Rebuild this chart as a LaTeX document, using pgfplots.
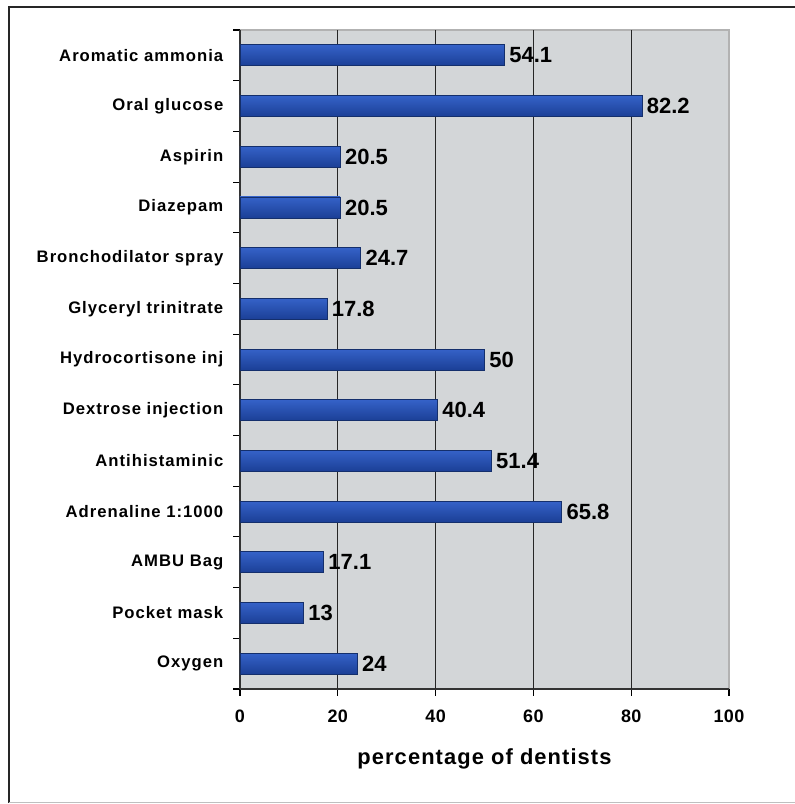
\documentclass[border=0pt]{standalone}
\usepackage{fontspec}
\setmainfont{Liberation Sans}
\usepackage{pgfplots}
\pgfplotsset{compat=1.18}
\definecolor{bggray}{HTML}{D3D6D8}
\definecolor{bartop}{HTML}{3562C8}
\definecolor{barbot}{HTML}{1B3F96}
\definecolor{baredge}{HTML}{142F6C}
\pgfplotsset{mybar/.style={draw=baredge, line width=0.6pt, top color=bartop, bottom color=barbot, bar shift=0pt}}
\begin{document}
\begin{tikzpicture}
\useasboundingbox (0pt,0pt) rectangle (595.5pt,603pt);
\fill[white] (0pt,0pt) rectangle (595.5pt,603pt);
\draw[line width=1.2pt, black!85] (6.75pt,1.0pt) -- (6.75pt,597.75pt) -- (597pt,597.75pt);
\draw[line width=0.8pt, black!25] (6.75pt,1.0pt) -- (597pt,1.0pt);
\begin{axis}[
  at={(180pt,86.25pt)}, anchor=south west,
  scale only axis, width=366.75pt, height=494.25pt,
  xbar, bar width=15.75pt,
  xmin=0, xmax=100,
  ymin=-0.5, ymax=12.5, y dir=reverse,
  xtick={0,20,...,100},
  ytick={0,...,12},
  yticklabels={Aromatic ammonia,Oral glucose,Aspirin,Diazepam,Bronchodilator spray,Glyceryl trinitrate,Hydrocortisone inj,Dextrose injection,Antihistaminic,Adrenaline 1:1000,AMBU Bag,Pocket mask,Oxygen},
  minor ytick={-0.5,0.5,...,12.5},
  major y tick style={draw=none},
  minor y tick style={black, line width=0.8pt},
  minor tick length=5pt,
  major tick length=5pt,
  x tick style={black, line width=0.8pt},
  tick align=outside,
  axis x line*=bottom, axis y line*=left,
  axis line style={black!80, line width=0.8pt},
  axis background/.style={fill=bggray, draw=black!30, line width=0.8pt},
  extra x ticks={20,40,60,80},
  extra x tick style={grid=major, major tick length=0pt, xticklabels={}},
  extra x tick labels={},
  major grid style={black!85, line width=0.9pt},
  /pgf/number format/assume math mode=true,
  yticklabel style={font=\fontsize{12.5}{14}\selectfont\bfseries\addfontfeature{LetterSpace=6}, xshift=-4pt},
  xticklabel style={font=\fontsize{13.5}{15}\selectfont\bfseries\addfontfeature{LetterSpace=2}, yshift=-7pt},
  xlabel={percentage of dentists},
  xlabel style={font=\fontsize{16.4}{18}\selectfont\bfseries\addfontfeature{LetterSpace=5}, yshift=-8pt},
  nodes near coords,
  nodes near coords style={font=\fontsize{16.5}{18}\selectfont\bfseries, black, anchor=west, xshift=0pt},
  point meta=explicit symbolic,
]
\addplot[mybar] coordinates {(54.1,0) [54.1]};
\addplot[mybar] coordinates {(82.2,1) [82.2]};
\addplot[mybar] coordinates {(20.5,2) [20.5]};
\addplot[mybar] coordinates {(20.5,3) [20.5]};
\addplot[mybar] coordinates {(24.7,4) [24.7]};
\addplot[mybar] coordinates {(17.8,5) [17.8]};
\addplot[mybar] coordinates {(50,6) [50]};
\addplot[mybar] coordinates {(40.4,7) [40.4]};
\addplot[mybar] coordinates {(51.4,8) [51.4]};
\addplot[mybar] coordinates {(65.8,9) [65.8]};
\addplot[mybar] coordinates {(17.1,10) [17.1]};
\addplot[mybar] coordinates {(13,11) [13]};
\addplot[mybar] coordinates {(24,12) [24]};
\end{axis}
\end{tikzpicture}
\end{document}
